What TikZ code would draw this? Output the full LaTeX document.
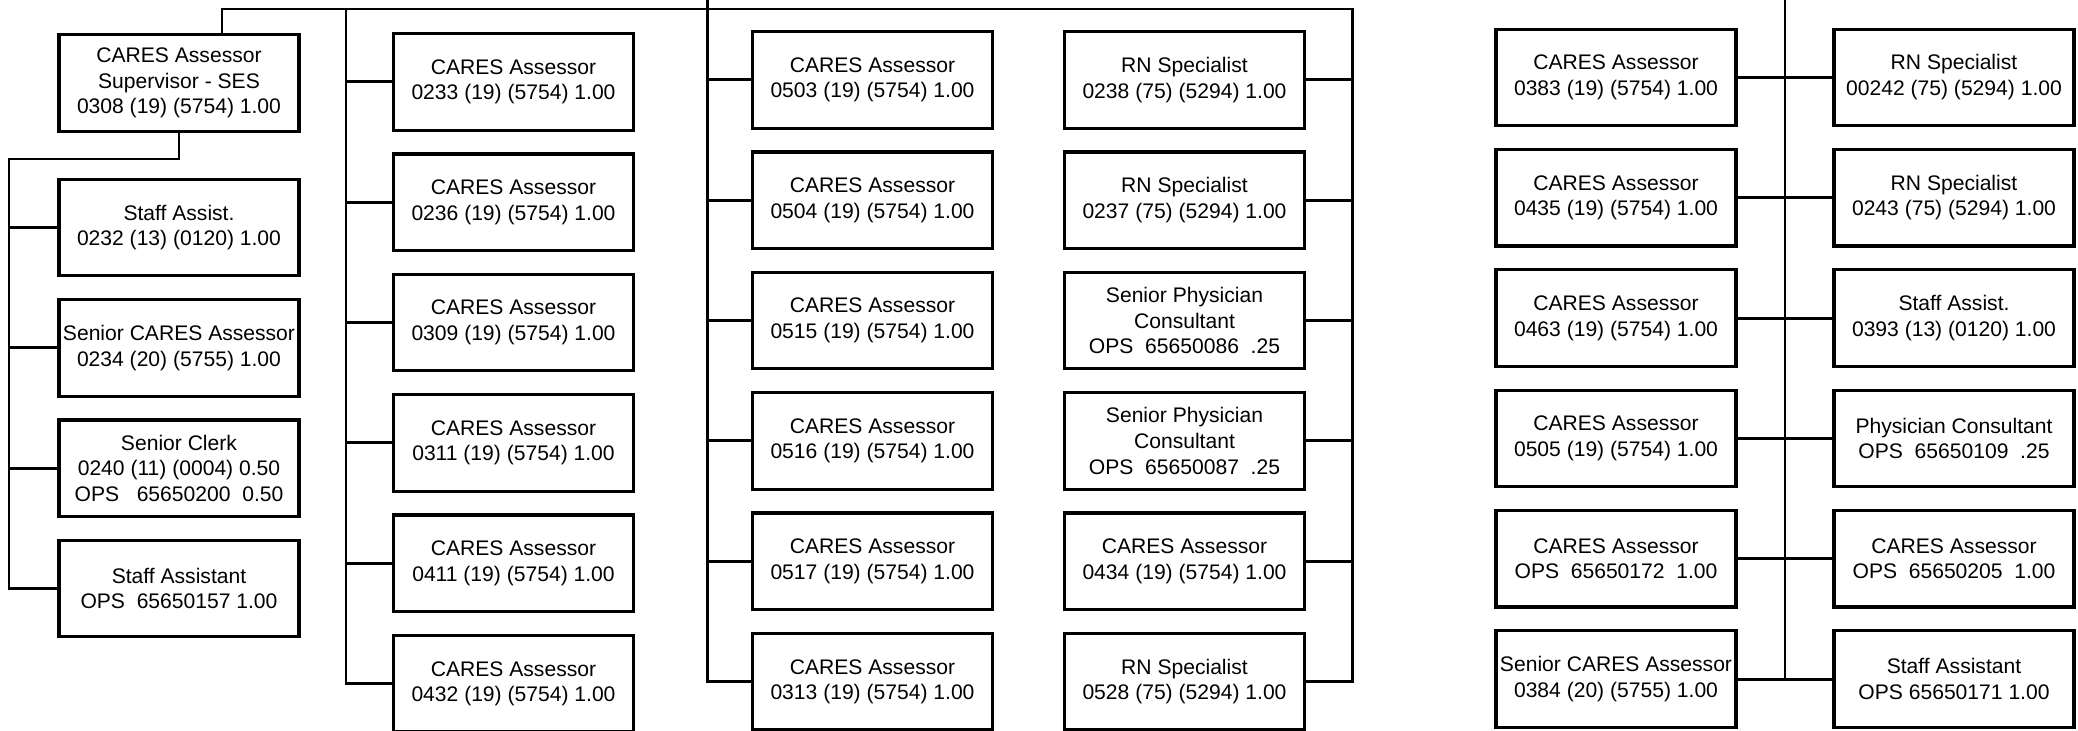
\documentclass[tikz,border=0pt]{standalone}
\usepackage{fontspec}
\setmainfont{Liberation Sans}
\usetikzlibrary{positioning}
\tikzstyle{post}     = [rectangle, draw=black, line width=0.9pt, minimum width=2.40cm, minimum height=0.965cm,
                        inner xsep=1pt, align=center, font=\fontsize{6}{7.3}\selectfont]
\tikzstyle{link}     = [line width=0.85pt]
\tikzstyle{thinlink} = [line width=0.5pt]

\begin{document}
\begin{tikzpicture}[node distance=0.207cm]
  \useasboundingbox (0,0) rectangle (20.78,-7.30);

  \node (sup)  [post, anchor=north] at (1.79,-0.33) {CARES Assessor\\Supervisor - SES\\0308 (19) (5754) 1.00};
  \node (c1a)  [post, below=0.45cm of sup] {Staff Assist.\\0232 (13) (0120) 1.00};
  \node (c1b)  [post, below=of c1a] {Senior CARES Assessor\\0234 (20) (5755) 1.00};
  \node (c1c)  [post, below=of c1b] {Senior Clerk\\0240 (11) (0004) 0.50\\OPS\ \ \ 65650200\ \ 0.50};
  \node (c1d)  [post, below=of c1c] {Staff Assistant\\OPS\ \ 65650157 1.00};

  \node (c2a)  [post, anchor=north] at (5.135,-0.32) {CARES Assessor\\0233 (19) (5754) 1.00};
  \node (c2b)  [post, below=of c2a] {CARES Assessor\\0236 (19) (5754) 1.00};
  \node (c2c)  [post, below=of c2b] {CARES Assessor\\0309 (19) (5754) 1.00};
  \node (c2d)  [post, below=of c2c] {CARES Assessor\\0311 (19) (5754) 1.00};
  \node (c2e)  [post, below=of c2d] {CARES Assessor\\0411 (19) (5754) 1.00};
  \node (c2f)  [post, below=of c2e] {CARES Assessor\\0432 (19) (5754) 1.00};

  \node (c3a)  [post, anchor=north] at (8.725,-0.30) {CARES Assessor\\0503 (19) (5754) 1.00};
  \node (c3b)  [post, below=of c3a] {CARES Assessor\\0504 (19) (5754) 1.00};
  \node (c3c)  [post, below=of c3b] {CARES Assessor\\0515 (19) (5754) 1.00};
  \node (c3d)  [post, below=of c3c] {CARES Assessor\\0516 (19) (5754) 1.00};
  \node (c3e)  [post, below=of c3d] {CARES Assessor\\0517 (19) (5754) 1.00};
  \node (c3f)  [post, below=of c3e] {CARES Assessor\\0313 (19) (5754) 1.00};

  \node (c4a)  [post, anchor=north] at (11.845,-0.30) {RN Specialist\\0238 (75) (5294) 1.00};
  \node (c4b)  [post, below=of c4a] {RN Specialist\\0237 (75) (5294) 1.00};
  \node (c4c)  [post, below=of c4b] {Senior Physician\\Consultant\\OPS\ \ 65650086\ \ .25};
  \node (c4d)  [post, below=of c4c] {Senior Physician\\Consultant\\OPS\ \ 65650087\ \ .25};
  \node (c4e)  [post, below=of c4d] {CARES Assessor\\0434 (19) (5754) 1.00};
  \node (c4f)  [post, below=of c4e] {RN Specialist\\0528 (75) (5294) 1.00};

  \node (c5a)  [post, anchor=north] at (16.16,-0.275) {CARES Assessor\\0383 (19) (5754) 1.00};
  \node (c5b)  [post, below=of c5a] {CARES Assessor\\0435 (19) (5754) 1.00};
  \node (c5c)  [post, below=of c5b] {CARES Assessor\\0463 (19) (5754) 1.00};
  \node (c5d)  [post, below=of c5c] {CARES Assessor\\0505 (19) (5754) 1.00};
  \node (c5e)  [post, below=of c5d] {CARES Assessor\\OPS\ \ 65650172\ \ 1.00};
  \node (c5f)  [post, below=of c5e] {Senior CARES Assessor\\0384 (20) (5755) 1.00};

  \node (c6a)  [post, anchor=north] at (19.54,-0.275) {RN Specialist\\00242 (75) (5294) 1.00};
  \node (c6b)  [post, below=of c6a] {RN Specialist\\0243 (75) (5294) 1.00};
  \node (c6c)  [post, below=of c6b] {Staff Assist.\\0393 (13) (0120) 1.00};
  \node (c6d)  [post, below=of c6c] {Physician Consultant\\OPS\ \ 65650109\ \ .25};
  \node (c6e)  [post, below=of c6d] {CARES Assessor\\OPS\ \ 65650205\ \ 1.00};
  \node (c6f)  [post, below=of c6e] {Staff Assistant\\OPS 65650171 1.00};

  \coordinate (j1) at (2.22,-0.09);
  \coordinate (j2) at (3.46,-0.09);
  \coordinate (j3) at (7.07,0);
  \coordinate (j4) at (13.52,-0.09);
  \coordinate (j0) at (0.09,-1.59);
  \coordinate (j5) at (17.85,0);

  \draw [link] (sup.north -| j1) |- (j4) |- (c4f.east);
  \draw [link] (j2) |- (c2f.west);
  \draw [link] (j3) |- (c3f.west);
  \draw [link] (sup.south) |- (j0) |- (c1d.west);
  \draw [thinlink] (j5) -- (j5 |- c5f.east);

  \foreach \n in {c1a,c1b,c1c}
    \draw [link] (\n.west) -- (\n.west -| j0);
  \foreach \n in {c2a,c2b,c2c,c2d,c2e}
    \draw [link] (\n.west) -- (\n.west -| j2);
  \foreach \n in {c3a,c3b,c3c,c3d,c3e}
    \draw [link] (\n.west) -- (\n.west -| j3);
  \foreach \n in {c4a,c4b,c4c,c4d,c4e}
    \draw [link] (\n.east) -- (\n.east -| j4);
  \foreach \n/\m in {c5a/c6a,c5b/c6b,c5c/c6c,c5d/c6d,c5e/c6e,c5f/c6f}
    \draw [link] (\n.east) -- (\m.west);
\end{tikzpicture}
\end{document}
